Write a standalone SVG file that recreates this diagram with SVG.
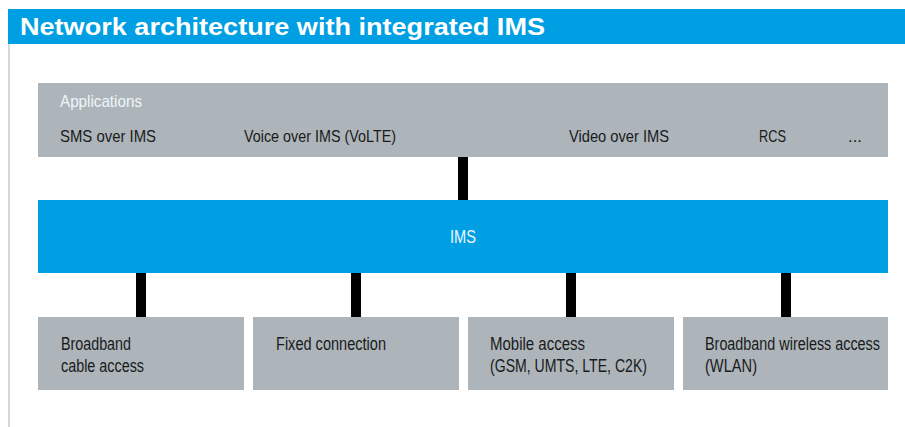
<svg xmlns="http://www.w3.org/2000/svg" width="905" height="427" viewBox="0 0 905 427">
<style>
.gray{fill:#adb5ba}
.blue{fill:#009fe3}
.t{font-family:"Liberation Sans",Arial,sans-serif;font-size:17.5px;fill:#1a1a1a}
.a{font-size:16.5px}
.w{fill:#eef6fb}
.conn{fill:#000}
</style>
<rect width="905" height="427" fill="#fff"/>
<g id="title">
<rect x="8" y="9" width="897" height="35" class="blue"/>
<text x="20" y="35" font-family="'Liberation Sans',Arial,sans-serif" font-size="23" font-weight="bold" fill="#fff" textLength="525" lengthAdjust="spacingAndGlyphs">Network architecture with integrated IMS</text>
</g>
<rect x="8" y="44" width="2" height="383" fill="#d3d8db"/>
<g id="applications">
<rect x="38" y="83" width="850" height="74" class="gray"/>
<text class="t a w" x="60" y="107" textLength="82" lengthAdjust="spacingAndGlyphs">Applications</text>
<text class="t a" x="60" y="142" textLength="96" lengthAdjust="spacingAndGlyphs">SMS over IMS</text>
<text class="t a" x="244" y="142" textLength="152" lengthAdjust="spacingAndGlyphs">Voice over IMS (VoLTE)</text>
<text class="t a" x="569" y="142" textLength="100" lengthAdjust="spacingAndGlyphs">Video over IMS</text>
<text class="t a" x="759" y="142" textLength="27" lengthAdjust="spacingAndGlyphs">RCS</text>
<text class="t a" x="848" y="142" textLength="14" lengthAdjust="spacingAndGlyphs">...</text>
</g>
<g id="connectors">
<rect class="conn" x="458" y="157" width="10" height="43"/>
<rect class="conn" x="136" y="273" width="10" height="44"/>
<rect class="conn" x="351" y="273" width="10" height="44"/>
<rect class="conn" x="566" y="273" width="10" height="44"/>
<rect class="conn" x="781" y="273" width="10" height="44"/>
</g>
<g id="ims">
<rect x="38" y="200" width="850" height="73" class="blue"/>
<text class="t w" x="450" y="243" textLength="26" lengthAdjust="spacingAndGlyphs">IMS</text>
</g>
<g id="broadband-cable">
<rect x="38" y="317" width="206" height="73" class="gray"/>
<text class="t" x="61" y="350" textLength="70" lengthAdjust="spacingAndGlyphs">Broadband</text>
<text class="t" x="61" y="372" textLength="83" lengthAdjust="spacingAndGlyphs">cable access</text>
</g>
<g id="fixed">
<rect x="253" y="317" width="206" height="73" class="gray"/>
<text class="t" x="276" y="350" textLength="110" lengthAdjust="spacingAndGlyphs">Fixed connection</text>
</g>
<g id="mobile">
<rect x="468" y="317" width="206" height="73" class="gray"/>
<text class="t" x="490" y="350" textLength="95" lengthAdjust="spacingAndGlyphs">Mobile access</text>
<text class="t" x="490" y="372" textLength="157" lengthAdjust="spacingAndGlyphs">(GSM, UMTS, LTE, C2K)</text>
</g>
<g id="wireless">
<rect x="683" y="317" width="205" height="73" class="gray"/>
<text class="t" x="705" y="350" textLength="175" lengthAdjust="spacingAndGlyphs">Broadband wireless access</text>
<text class="t" x="705" y="372" textLength="52" lengthAdjust="spacingAndGlyphs">(WLAN)</text>
</g>
</svg>
